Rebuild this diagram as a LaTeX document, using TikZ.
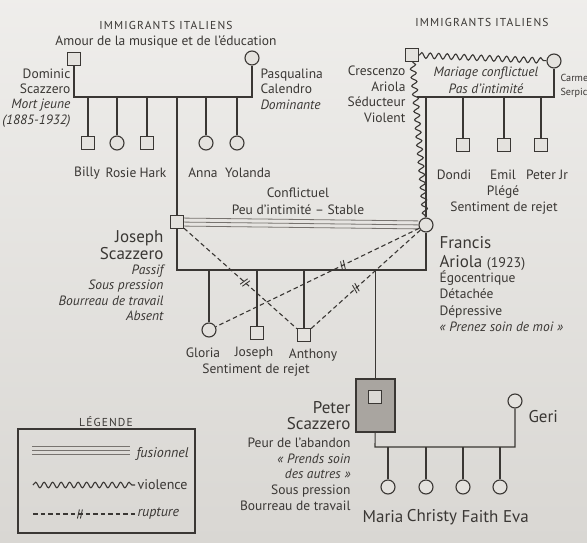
\documentclass[tikz,border=0pt]{standalone}
\usepackage{fontspec}
\setmainfont{PT Sans}
\usetikzlibrary{decorations.pathmorphing}
\definecolor{paper}{HTML}{E4E2DE}
\definecolor{paperlo}{HTML}{D9D7D3}
\definecolor{ink}{HTML}{3A3734}
\definecolor{fuscol}{HTML}{77736F}
\definecolor{shade}{HTML}{A9A5A0}

\begin{document}
\begin{tikzpicture}[x=1pt,y=-1pt,line width=1.1pt,color=ink]
	\tikzstyle{male} = [rectangle,draw=ink,fill=paper,minimum size=13pt,inner sep=0pt]
	\tikzstyle{female} = [circle,draw=ink,fill=paper,minimum size=14pt,inner sep=0pt]
	\tikzstyle{edge} = [-]
	\tikzstyle{violence} = [decorate,decoration={snake,amplitude=2.8pt,segment length=8.5pt}]
	\tikzstyle{rupture} = [dash pattern=on 4.5pt off 3pt]
	\tikzstyle{fusion} = [draw=fuscol,line width=0.8pt,
		postaction={draw=fuscol,transform canvas={yshift=4pt}},
		postaction={draw=fuscol,transform canvas={yshift=-4pt}}]
	\tikzstyle{lbl} = [inner sep=0pt,font=\fontsize{13.5}{15.5}\selectfont]
	\tikzstyle{big} = [inner sep=0pt,font=\fontsize{17}{17}\selectfont]
	\tikzstyle{desc} = [inner sep=0pt,font=\fontsize{13.5}{15.5}\selectfont]
	\tikzstyle{hdr} = [inner sep=0pt,font=\fontsize{11.5}{13}\selectfont\addfontfeature{LetterSpace=10}]
	\tikzset{cut/.pic={\draw[solid,line width=0.9pt] (-2.5,4.5) -- (-0.5,-4.5) (0.5,4.5) -- (2.5,-4.5);}}
	% page
	\useasboundingbox (0,0) rectangle (587,543);
	\fill[top color=paper!60!white,bottom color=paperlo] (0,0) rectangle (587,543);

	% Scazzero parents
	\node[hdr] (h1) at (166,25) {IMMIGRANTS ITALIENS};
	\node[lbl] (h1b) at (166,42) {Amour de la musique et de l'éducation};
	\node[male] (dom) at (74,59) {};
	\node[female] (pas) at (252,58) {};
	\coordinate (m1a) at (74,97);
	\coordinate (m1b) at (252,97);
	\draw[edge] (dom) -- (m1a) -- (m1b) -- (pas);
	\node[lbl,align=right,anchor=north east,font=\fontsize{13.5}{15.2}\selectfont] (domt) at (71,68.3) {Dominic\\Scazzero\\\textit{Mort jeune}\\\textit{(1885-1932)}};
	\node[lbl,align=left,anchor=north west] (past) at (260,68.3) {Pasqualina\\Calendro\\\textit{Dominante}};
	\node[male] (bil) at (88,143) {};
	\node[female] (ros) at (117,143) {};
	\node[male] (har) at (147,143) {};
	\node[female] (ann) at (206,143) {};
	\node[female] (yol) at (237,143) {};
	\foreach \k in {bil,ros,har,ann,yol}
		\draw[edge] (\k) -- (\k |- m1a);
	\node[lbl] (bilt) at (87,173) {Billy};
	\node[lbl] (rost) at (121,173) {Rosie};
	\node[lbl] (hart) at (153,173) {Hark};
	\node[lbl] (annt) at (203,173) {Anna};
	\node[lbl] (yolt) at (248,173) {Yolanda};

	% Ariola parents
	\node[hdr] (h2) at (482,22) {IMMIGRANTS ITALIENS};
	\node[male] (cre) at (412,55) {};
	\node[female] (car) at (554,61) {};
	\coordinate (m2a) at (417,97);
	\coordinate (m2b) at (554,97);
	\draw[violence] (cre) -- (car);
	\draw[edge] (m2a) -- (m2b) -- (car);
	\node[lbl,align=right,anchor=north east,font=\fontsize{13.5}{15.7}\selectfont] (cret) at (406,65.3) {Crescenzo\\Ariola\\Séducteur\\Violent};
	\node[lbl,align=center,font=\fontsize{13.5}{17}\selectfont\itshape] (mar2) at (486,80) {Mariage conflictuel\\Pas d'intimité};
	\node[lbl,align=left,anchor=north west,font=\fontsize{10.2}{14}\selectfont] (cart) at (560,73.5) {Carme\\Serpic};
	\node[male] (don) at (463,145) {};
	\node[male] (emi) at (504,145) {};
	\node[male] (pjr) at (541,145) {};
	\foreach \k in {don,emi,pjr}
		\draw[edge] (\k) -- (\k |- m2a);
	\node[lbl] (dont) at (454,175) {Dondi};
	\node[lbl] (emit) at (503,175) {Emil};
	\node[lbl] (pjrt) at (547,175) {Peter Jr};
	\node[lbl] (emid) at (503,192) {Plégé};
	\node[lbl] (emie) at (504,208) {Sentiment de rejet};

	% Joseph et Francis
	\node[male] (jos) at (177,222) {};
	\node[female] (fra) at (426,225) {};
	\draw[edge] (jos) -- (jos |- m1a);
	\draw[violence] (cre) -- (fra);
	\draw[edge] (fra) -- (fra |- m2a);
	\draw[fusion] (jos) -- (fra);
	\node[lbl] (cf1) at (298,193) {Conflictuel};
	\node[lbl] (cf2) at (298,210) {Peu d'intimité -- Stable};
	\node[big,align=right,anchor=north east] (jost) at (164,230) {Joseph\\Scazzero};
	\node[desc,align=right,anchor=north east,font=\fontsize{13.5}{15.3}\selectfont\itshape] (josd) at (164,264.3) {Passif\\Sous pression\\Bourreau de travail\\Absent};
	\node[big,align=left,anchor=north west,font=\fontsize{17}{19}\selectfont] (frat) at (439,236) {Francis\\Ariola {\fontsize{14}{14}\selectfont(1923)}};
	\node[desc,align=left,anchor=north west,font=\fontsize{13.5}{16.3}\selectfont] (frad) at (439,270.3) {Égocentrique\\Détachée\\Dépressive\\\textit{« Prenez soin de moi »}};
	\coordinate (m3a) at (177,270);
	\coordinate (m3b) at (426,270);
	\draw[edge] (jos) -- (m3a) -- (m3b) -- (fra);
	\node[female] (glo) at (209,330) {};
	\node[male] (jjr) at (257,333) {};
	\node[male] (ant) at (304,335) {};
	\foreach \k in {glo,jjr,ant}
		\draw[edge] (\k) -- (\k |- m3a);
	\node[lbl] (glot) at (203,353) {Gloria};
	\node[lbl] (jjrt) at (254,353) {Joseph};
	\node[lbl] (antt) at (313,355) {Anthony};
	\node[lbl] (rej) at (256,370) {Sentiment de rejet};
	\draw[rupture] (jos) -- pic[pos=0.54,sloped]{cut} (ant);
	\draw[rupture] (fra) -- pic[pos=0.375,sloped]{cut} (glo);
	\draw[rupture] (fra) -- pic[pos=0.59,sloped]{cut} (ant);

	% Peter et Geri
	\node[rectangle,draw=ink,fill=shade,minimum width=39pt,minimum height=53pt] (pbox) at (375.5,405.5) {};
	\node[male,fill=paper!85!shade] (pet) at (375,397) {};
	\draw[edge] (pbox) -- (pbox |- m3a);
	\node[female] (ger) at (515,401) {};
	\coordinate (m4a) at (375,447);
	\coordinate (m4b) at (515,447);
	\draw[edge] (pbox) -- (m4a) -- (m4b) -- (ger);
	\node[big,align=right,anchor=north east,font=\fontsize{17}{16}\selectfont] (pett) at (351,401) {Peter\\Scazzero};
	\node[desc,align=right,anchor=north east,font=\fontsize{13.5}{15.7}\selectfont] (petd) at (351,437.3) {Peur de l'abandon\\\textit{« Prends soin}\\\textit{des autres »}\\Sous pression\\Bourreau de travail};
	\node[big,anchor=west] (gert) at (528,417) {Geri};
	\node[female] (mar) at (388,487) {};
	\node[female] (chr) at (426,487) {};
	\node[female] (fai) at (463,487) {};
	\node[female] (eva) at (500,487) {};
	\foreach \k in {mar,chr,fai,eva}
		\draw[edge] (\k) -- (\k |- m4a);
	\node[big] (mart) at (383,517) {Maria};
	\node[big] (chrt) at (432,517) {Christy};
	\node[big] (fait) at (480,517) {Faith};
	\node[big] (evat) at (516,517) {Eva};

	% legende
	\node[hdr] (legt) at (106,422) {LÉGENDE};
	\node[rectangle,draw=ink,line width=1.5pt,minimum width=177pt,minimum height=104pt] (leg) at (106.5,481) {};
	\coordinate (l1a) at (32,450);
	\coordinate (l1b) at (130,450);
	\coordinate (l2a) at (33,485);
	\coordinate (l2b) at (135,485);
	\coordinate (l3a) at (33,514);
	\coordinate (l3b) at (135,514);
	\draw[fusion] (l1a) -- (l1b);
	\draw[violence] (l2a) -- (l2b);
	\draw[rupture] (l3a) -- pic[pos=0.46,sloped]{cut} (l3b);
	\node[lbl,anchor=west,font=\fontsize{14}{16}\selectfont] (l1t) at (136,454) {\textit{fusionnel}};
	\node[lbl,anchor=west,font=\fontsize{14}{16}\selectfont] (l2t) at (137,485) {violence};
	\node[lbl,anchor=west,font=\fontsize{14}{16}\selectfont] (l3t) at (137,514) {\textit{rupture}};
\end{tikzpicture}
\end{document}
